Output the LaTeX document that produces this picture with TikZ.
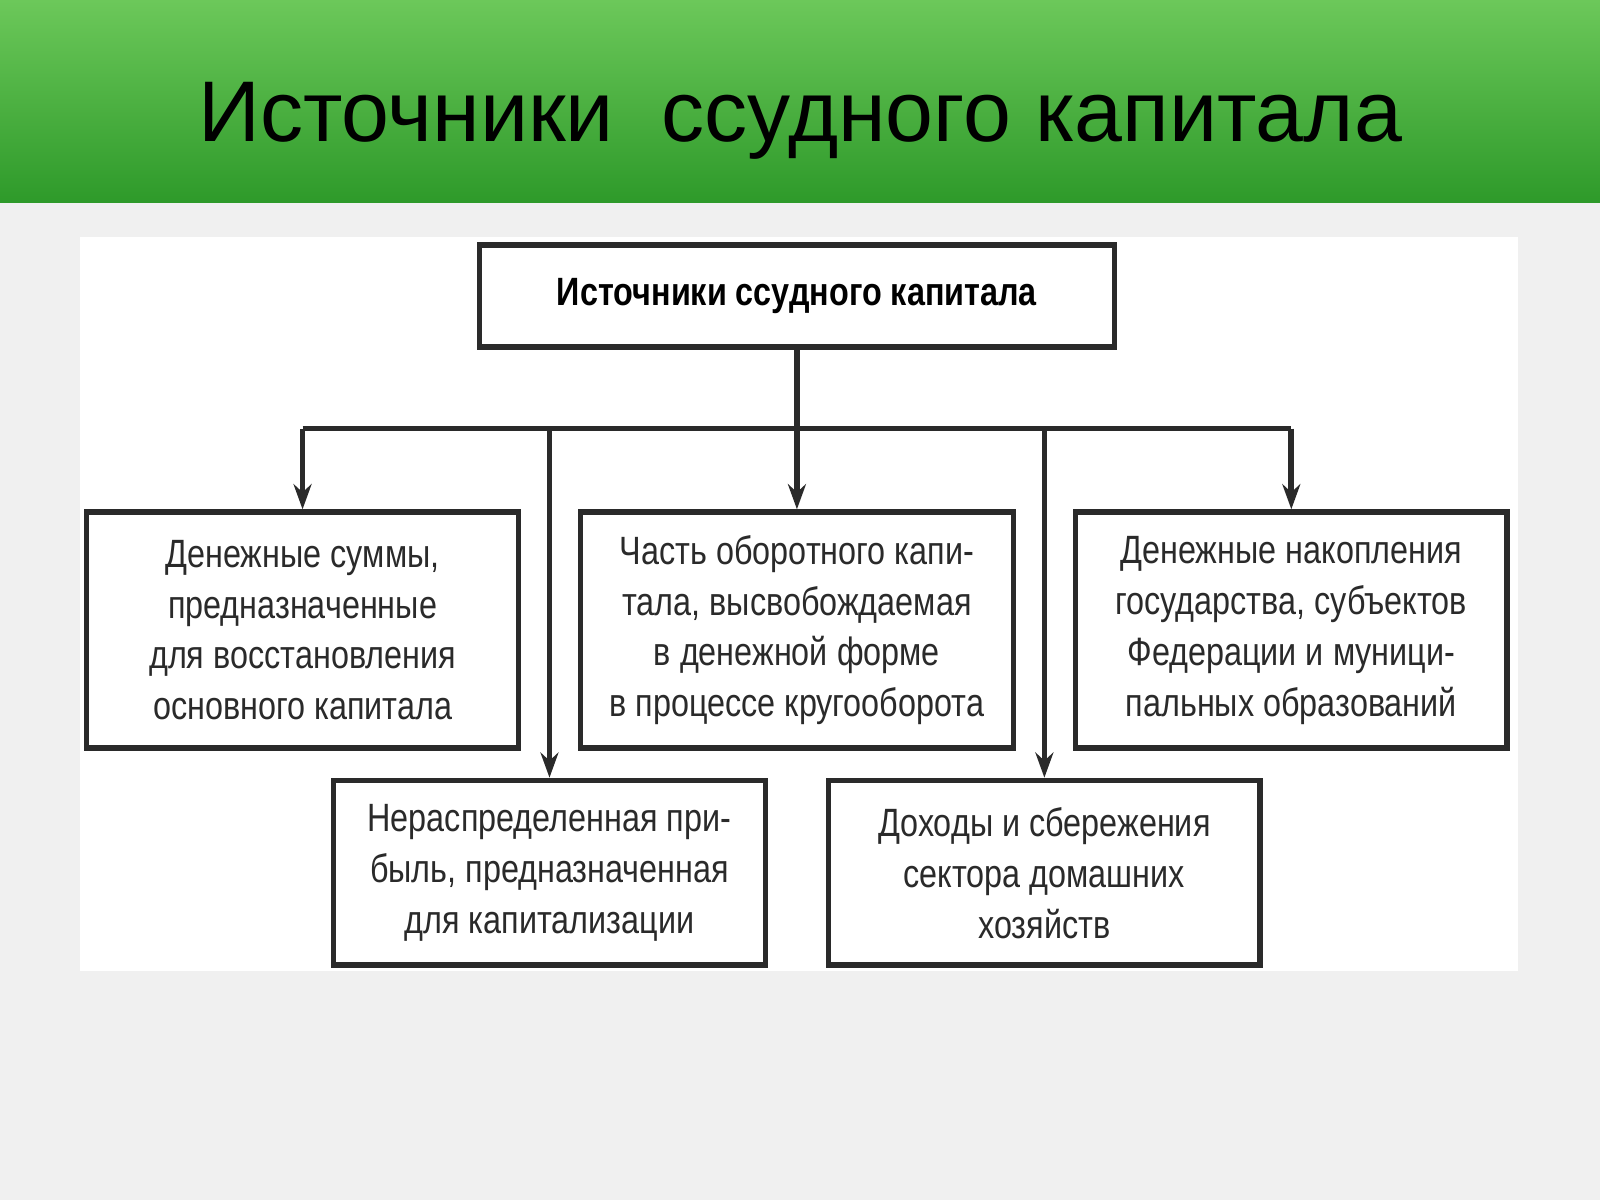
\documentclass[tikz,border=0pt]{standalone}
\usepackage{fontspec}
\setmainfont{Liberation Sans}
\newfontfamily\narrow{Liberation Sans}[FakeStretch=0.82]
\usetikzlibrary{arrows.meta}
\definecolor{bg}{HTML}{F0F0F0}
\definecolor{gtop}{HTML}{6CC85A}
\definecolor{gbot}{HTML}{2E9A2A}
\definecolor{ln}{HTML}{2A2A2A}
\begin{document}
\begin{tikzpicture}[x=0.01cm,y=-0.01cm,
  box/.style={draw=ln,line width=1.6pt,fill=white,align=center,inner sep=0pt,
    font=\narrow\fontsize{11}{14.2}\selectfont\color{ln}},
  arr/.style={draw=ln,line width=1.6pt,-{Stealth[length=7pt,width=5pt]}},
  ln/.style={draw=ln,line width=1.6pt}]
\useasboundingbox (0,0) rectangle (1568,1176);
\fill[bg] (0,0) rectangle (1568,1176);
\shade[top color=gtop,bottom color=gbot] (0,0) rectangle (1568,198);
\node (title) at (784,118) {\fontsize{24}{28}\selectfont Источники\ \ ссудного капитала};
\fill[white] (78,232) rectangle (1488,952);
\node[box,minimum width=6.22cm,minimum height=1cm,font=\narrow\fontsize{11}{14}\selectfont\bfseries] (top) at (781,290) {Источники ссудного капитала};
\node[box,minimum width=4.23cm,minimum height=2.31cm] (a) at (296.5,617.5) {Денежные суммы,\\предназначенные\\для восстановления\\основного капитала};
\node[box,minimum width=4.24cm,minimum height=2.31cm] (b) at (781,617.5) {Часть оборотного капи-\\тала, высвобождаемая\\в денежной форме\\в процессе кругооборота};
\node[box,minimum width=4.23cm,minimum height=2.31cm] (c) at (1265.5,617.5) {Денежные накопления\\государства, субъектов\\Федерации и муници-\\пальных образований};
\node[box,minimum width=4.23cm,minimum height=1.81cm] (d) at (538.5,855.5) {Нераспределенная при-\\быль, предназначенная\\для капитализации};
\node[box,minimum width=4.23cm,minimum height=1.81cm] (e) at (1023.5,855.5) {Доходы и сбережения\\сектора домашних\\хозяйств};
\coordinate (j) at (781,420);
\coordinate (jl) at (296.5,420);
\coordinate (jr) at (1265.5,420);
\coordinate (jd) at (538.5,420);
\coordinate (je) at (1023.5,420);
\draw[ln] (top.south) -- (j);
\draw[ln] (jl) -- (jr);
\draw[arr] (jl) -- (a.north);
\draw[arr] (j) -- (b.north);
\draw[arr] (jr) -- (c.north);
\draw[arr] (jd) -- (d.north);
\draw[arr] (je) -- (e.north);
\end{tikzpicture}
\end{document}
